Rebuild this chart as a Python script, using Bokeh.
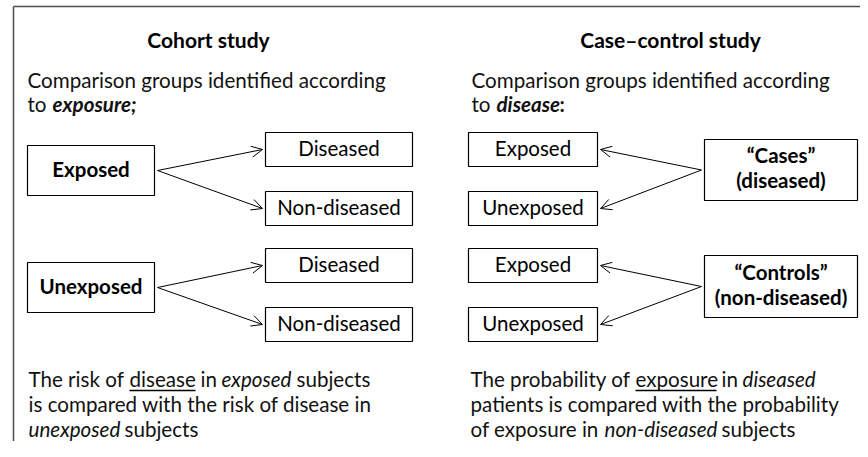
from bokeh.plotting import figure
from bokeh.models import Range1d, ColumnDataSource, Arrow, OpenHead
from bokeh.core.properties import value
from bokeh.embed import file_html
from bokeh.resources import INLINE

FONT = "Lato"
BODY = "20.6px"
BOXF = "20.5px"
TITLEF = "21px"
TEXT_DY = -8  # compensates the SVG renderer's baseline placement

# ---- section titles ----
titles = ["Cohort study", "Case\u2013control study"]
title_x = [208, 670]
title_y = [54, 54]

# ---- boxes ----
box_labels = [["Exposed"], ["Unexposed"], ["Diseased"], ["Non-diseased"],
              ["Diseased"], ["Non-diseased"],
              ["Exposed"], ["Unexposed"], ["Exposed"], ["Unexposed"],
              ["\u201cCases\u201d", "(diseased)"],
              ["\u201cControls\u201d", "(non-diseased)"]]
box_bold = [True, True, False, False, False, False,
            False, False, False, False, True, True]
box_left = [27, 27, 265, 265, 265, 265, 468, 468, 468, 468, 704, 704]
box_right = [154, 154, 412, 412, 412, 412, 597, 597, 597, 597, 857, 857]
box_top = [152, 269, 139, 198, 255, 314, 139, 198, 255, 314, 146, 262]
box_bottom = [202, 319, 173, 232, 289, 348, 173, 232, 289, 348, 207, 324]

arrow_src = [0, 0, 1, 1, 10, 10, 11, 11]
arrow_dst = [2, 3, 4, 5, 6, 7, 8, 9]

# ---- free text segments (x = left edge, y = baseline) ----
seg_text = ["Comparison groups identified according", "to", "exposure;",
            "Comparison groups identified according", "to", "disease", ":",
            "The risk of", "disease", "in", "exposed", "subjects",
            "is compared with the risk of disease in",
            "unexposed", "subjects",
            "The probability of", "exposure", "in", "diseased",
            "patients is compared with the probability",
            "of exposure in", "non-diseased", "subjects"]
seg_x = [27, 27, 52,
         471, 471, 496, 559,
         28, 129, 200, 221, 296,
         28,
         28, 124,
         470, 635, 721, 742,
         470,
         470, 604, 721]
seg_y = [94, 118, 118,
         94, 118, 118, 118,
         393, 393, 393, 393, 393,
         418,
         443, 443,
         393, 393, 393, 393,
         418,
         443, 443, 443]
seg_style = ["normal", "normal", "bold italic",
             "normal", "normal", "bold italic", "bold",
             "normal", "normal", "normal", "italic", "normal",
             "normal",
             "italic", "normal",
             "normal", "normal", "normal", "italic",
             "normal",
             "normal", "italic", "normal"]
underline_x0 = [129, 635]
underline_x1 = [195, 716]
underline_y = [397, 397]

# ---- frame (partial border) ----
frame_x = [[13, 860], [13, 13]]
frame_y = [[13, 13], [13, 448]]

p = figure(width=860, height=441, x_range=Range1d(0, 860), y_range=Range1d(448, 7),
           x_axis_type=None, y_axis_type=None, output_backend="svg",
           toolbar_location=None, min_border=0)
p.grid.visible = False
p.outline_line_color = None
p.background_fill_color = "white"
p.border_fill_color = "white"

p.multi_line(xs=frame_x, ys=frame_y, line_color="#4d4d4d", line_width=1.5)

p.quad(left=box_left, right=box_right, top=box_top, bottom=box_bottom,
       fill_color="white", line_color="black", line_width=1.2)

# arrows
xs, ys, xe, ye = [], [], [], []
for s, d in zip(arrow_src, arrow_dst):
    sy = (box_top[s] + box_bottom[s]) / 2
    dy = (box_top[d] + box_bottom[d]) / 2
    if box_right[s] < box_left[d]:
        xs.append(box_right[s] + 3); xe.append(box_left[d] - 3)
    else:
        xs.append(box_left[s] - 3); xe.append(box_right[d] + 3)
    ys.append(sy); ye.append(dy)
asrc = ColumnDataSource(dict(x_start=xs, y_start=ys, x_end=xe, y_end=ye))
p.add_layout(Arrow(source=asrc, x_start="x_start", y_start="y_start",
                   x_end="x_end", y_end="y_end", line_width=1, line_color="black",
                   end=OpenHead(size=11, line_width=1, line_color="black")))

# titles
p.text(x=title_x, y=[v + TEXT_DY for v in title_y], text=titles, text_font=value(FONT),
       text_font_size=value(TITLEF), text_font_style="bold",
       text_align="center", text_baseline="alphabetic", text_color="black")

# box labels
lx, ly, lt, ls = [], [], [], []
for i, lines in enumerate(box_labels):
    cx = (box_left[i] + box_right[i]) / 2
    cy = (box_top[i] + box_bottom[i]) / 2
    offs = [6.5] if len(lines) == 1 else [-7, 18]
    for line, o in zip(lines, offs):
        lx.append(cx); ly.append(cy + o + TEXT_DY); lt.append(line)
        ls.append("bold" if box_bold[i] else "normal")
p.text(x="x", y="y", text="t", text_font_style="s",
       source=ColumnDataSource(dict(x=lx, y=ly, t=lt, s=ls)),
       text_font=value(FONT), text_font_size=value(BOXF),
       text_align="center", text_baseline="alphabetic", text_color="black")

# free text
p.text(x="x", y="y", text="t", text_font_style="s",
       source=ColumnDataSource(dict(x=seg_x, y=[v + TEXT_DY for v in seg_y],
                                    t=seg_text, s=seg_style)),
       text_font=value(FONT), text_font_size=value(BODY),
       text_align="left", text_baseline="alphabetic", text_color="#111111")

p.segment(x0=underline_x0, x1=underline_x1, y0=underline_y, y1=underline_y,
          line_color="black", line_width=1.3)

open("out.html", "w").write(file_html(p, INLINE))
